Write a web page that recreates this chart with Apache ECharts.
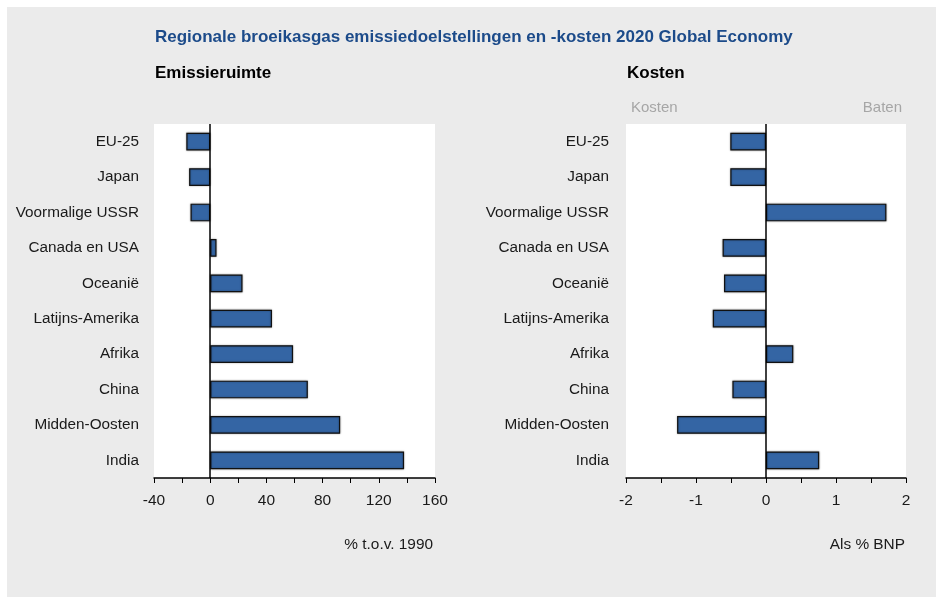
<!DOCTYPE html>
<html>
<head>
<meta charset="utf-8">
<script src="https://cdn.jsdelivr.net/npm/echarts@6/dist/echarts.min.js"></script>
<style>
  html, body { margin: 0; padding: 0; background: #ffffff; }
  #chart { width: 939px; height: 599px; }
</style>
</head>
<body>
<div id="chart"></div>
<script>
// Regions, top to bottom
const regions = ['EU-25', 'Japan', 'Voormalige USSR', 'Canada en USA', 'Oceanië',
  'Latijns-Amerika', 'Afrika', 'China', 'Midden-Oosten', 'India'];
// Emission space, % relative to 1990
const emissionSpace = [-17, -15, -14, 4.5, 23, 44, 59, 69.5, 92.5, 138];
// Costs (-) / benefits (+), % of GDP
const costShare = [-0.51, -0.51, 1.72, -0.62, -0.60, -0.76, 0.39, -0.48, -1.27, 0.76];

const FONT = 'Liberation Sans';
const BAR_COLOR = '#3465a4';
const TEXT = '#1a1a1a';

const chart = echarts.init(document.getElementById('chart'), null, { renderer: 'canvas' });

function valueAxis(gridIndex, min, max, interval) {
  return {
    type: 'value', gridIndex, min, max, interval,
    axisLine: { show: true, onZero: false, lineStyle: { color: '#000', width: 1.5 } },
    axisTick: { show: true, inside: false, length: 5, lineStyle: { color: '#000', width: 1 } },
    minorTick: { show: true, splitNumber: 2, length: 5, lineStyle: { color: '#000', width: 1 } },
    splitLine: { show: false },
    axisLabel: { fontFamily: FONT, fontSize: 15.5, color: TEXT, margin: 15 }
  };
}

function categoryAxis(gridIndex, margin) {
  return {
    type: 'category', gridIndex, data: regions, inverse: true,
    axisLine: { show: false }, axisTick: { show: false },
    axisLabel: { fontFamily: FONT, fontSize: 15.3, color: TEXT, margin }
  };
}

function barSeries(idx, data) {
  return {
    type: 'bar', xAxisIndex: idx, yAxisIndex: idx, data,
    barWidth: '50%',
    itemStyle: { color: BAR_COLOR, borderColor: '#111', borderWidth: 1.2,
      shadowColor: 'rgba(0,0,0,0.35)', shadowBlur: 2 },
    silent: true,
    markLine: {
      silent: true, symbol: 'none', label: { show: false },
      lineStyle: { color: '#000', width: 1.5, type: 'solid' },
      data: [{ xAxis: 0 }]
    },
    animation: false
  };
}

function label(text, x, y, size, weight, color, align) {
  return {
    type: 'text', silent: true, x, y,
    style: { text, fontFamily: FONT, fontSize: size, fontWeight: weight,
      fill: color, align: align || 'left', verticalAlign: 'middle' }
  };
}

const option = {
  backgroundColor: '#ffffff',
  animation: false,
  graphic: [
    { type: 'rect', silent: true, z: -10,
      shape: { x: 7, y: 7, width: 929, height: 590 }, style: { fill: '#ebebeb' } },
    label('Regionale broeikasgas emissiedoelstellingen en -kosten 2020 Global Economy',
      155, 37, 17, 'bold', '#1c4b8a'),
    label('Emissieruimte', 155, 73, 17, 'bold', '#000'),
    label('Kosten', 627, 73, 17, 'bold', '#000'),
    label('Kosten', 631, 108, 15, 'normal', '#a6a6a6'),
    label('Baten', 902, 108, 15, 'normal', '#a6a6a6', 'right'),
    label('% t.o.v. 1990', 433, 545, 15.4, 'normal', TEXT, 'right'),
    label('Als % BNP', 905, 545, 15.4, 'normal', TEXT, 'right')
  ],
  grid: [
    { left: 154, top: 124, width: 281, height: 354, show: true,
      backgroundColor: '#ffffff', borderWidth: 0, containLabel: false,
      outerBoundsMode: 'none' },
    { left: 626, top: 124, width: 280, height: 354, show: true,
      backgroundColor: '#ffffff', borderWidth: 0, containLabel: false,
      outerBoundsMode: 'none' }
  ],
  xAxis: [valueAxis(0, -40, 160, 40), valueAxis(1, -2, 2, 1)],
  yAxis: [categoryAxis(0, 15), categoryAxis(1, 17)],
  series: [barSeries(0, emissionSpace), barSeries(1, costShare)]
};

chart.setOption(option);
</script>
</body>
</html>
